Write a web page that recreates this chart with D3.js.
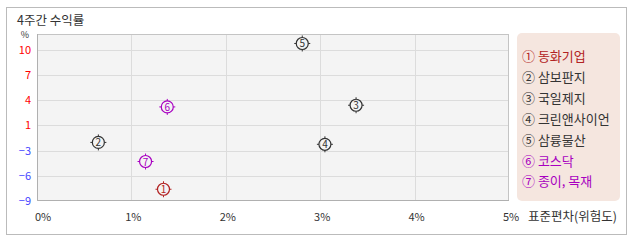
<!DOCTYPE html>
<html>
<head>
<meta charset="utf-8">
<script src="https://cdn.jsdelivr.net/npm/d3@7"></script>
<style>
  body { margin: 0; background: #fff; }
  text { font-family: "Noto Sans CJK KR", "Noto Sans", sans-serif; }
</style>
</head>
<body>
<div id="chart"></div>
<script>
// data
var names = ["동화기업", "삼보판지", "국일제지", "크린앤사이언", "삼륭물산", "코스닥", "종이, 목재"];
var marks = ["①", "②", "③", "④", "⑤", "⑥", "⑦"];
var risk = [1.34, 0.65, 3.38, 3.05, 2.81, 1.38, 1.15];     // 표준편차 %
var returns = [-7.6, -1.7, 3.4, -2.0, 10.8, 3.2, -4.3];    // 4주간 수익률 %
var colors = ["#b22222", "#333", "#333", "#333", "#333", "#a800c0", "#a800c0"];
var xTicks = [0, 1, 2, 3, 4, 5];
var yTicks = [-9, -6, -3, 1, 4, 7, 10];

var svgWidth = 638;
var svgHeight = 242;

var plot = { left: 37, top: 34, right: 509, bottom: 201 };

var svg = d3.select("#chart")
  .append("svg")
  .attr("width", svgWidth)
  .attr("height", svgHeight);

// outer frame
svg.append("rect")
  .attr("x", 6.5).attr("y", 7.5)
  .attr("width", 620).attr("height", 227)
  .attr("fill", "#fff")
  .attr("stroke", "#bbb");

var x = d3.scaleLinear()
  .domain([0, 5])
  .range([plot.left, plot.right]);

// tick labels are evenly spaced on the original, so map them piecewise
var step = 25.2;
var y = d3.scaleLinear()
  .domain(yTicks.concat([12]))
  .range(yTicks.map((d, i) => plot.bottom - i * step).concat([plot.top]));

// plot background
svg.append("rect")
  .attr("x", plot.left).attr("y", plot.top)
  .attr("width", plot.right - plot.left)
  .attr("height", plot.bottom - plot.top)
  .attr("fill", "#f4f4f4");

// grid
svg.append("g").selectAll("line")
  .data(xTicks.slice(1, -1))
  .enter().append("line")
  .attr("x1", d => Math.round(x(d)) + 0.5).attr("x2", d => Math.round(x(d)) + 0.5)
  .attr("y1", plot.top).attr("y2", plot.bottom)
  .attr("stroke", "#dcdcdc");

svg.append("g").selectAll("line")
  .data(yTicks.slice(1))
  .enter().append("line")
  .attr("x1", plot.left).attr("x2", plot.right)
  .attr("y1", d => Math.round(y(d)) + 0.5).attr("y2", d => Math.round(y(d)) + 0.5)
  .attr("stroke", "#dcdcdc");

// plot border
svg.append("rect")
  .attr("x", plot.left + 0.5).attr("y", plot.top + 0.5)
  .attr("width", plot.right - plot.left - 1)
  .attr("height", plot.bottom - plot.top - 1)
  .attr("fill", "none")
  .attr("stroke", "#c4c4c4");
svg.append("path")
  .attr("d", `M${plot.left + 0.5},${plot.top}V${plot.bottom - 0.5}H${plot.right}`)
  .attr("fill", "none")
  .attr("stroke", "#b0b0b0");

// y tick labels
svg.append("g").selectAll("text")
  .data(yTicks)
  .enter().append("text")
  .attr("x", 31)
  .attr("y", d => y(d) + 4)
  .attr("text-anchor", "end")
  .attr("font-size", 11)
  .attr("fill", d => d > 0 ? "#f00" : "#4646ff")
  .text(d => d < 0 ? "\u2212" + Math.abs(d) : d);

svg.append("text")
  .attr("x", 25).attr("y", 38)
  .attr("text-anchor", "middle")
  .attr("font-size", 9)
  .attr("fill", "#333")
  .text("%");

// x tick labels
svg.append("g").selectAll("text")
  .data(xTicks)
  .enter().append("text")
  .attr("x", d => d === 0 ? x(d) + 6 : x(d) + 2)
  .attr("y", 221)
  .attr("text-anchor", "middle")
  .attr("font-size", 11)
  .attr("fill", "#333")
  .text(d => d + "%");

svg.append("text")
  .attr("x", 528).attr("y", 221)
  .attr("font-size", 12.5)
  .attr("fill", "#333")
  .text("표준편차(위험도)");

// title
svg.append("text")
  .attr("x", 17).attr("y", 25)
  .attr("font-size", 12.5)
  .attr("fill", "#333")
  .text("4주간 수익률");

// points
var points = svg.append("g").selectAll("g")
  .data(names.map((n, i) => i))
  .enter().append("g")
  .attr("transform", i => `translate(${x(risk[i])}, ${y(returns[i])})`);

points.append("circle")
  .attr("r", 6)
  .attr("fill", "none")
  .attr("stroke", i => colors[i])
  .attr("stroke-width", 1.2);

points.append("path")
  .attr("d", "M0,-6V-8M0,6V8M-6,0H-8M6,0H8")
  .attr("stroke", i => colors[i])
  .attr("stroke-width", 1);

points.append("text")
  .attr("y", 4)
  .attr("text-anchor", "middle")
  .attr("font-size", 10)
  .attr("fill", i => colors[i])
  .text(i => i + 1);

// legend
svg.append("rect")
  .attr("x", 517).attr("y", 33)
  .attr("width", 103).attr("height", 168)
  .attr("rx", 5)
  .attr("fill", "#f5e6df");

svg.append("g").selectAll("text")
  .data(names.map((n, i) => i))
  .enter().append("text")
  .attr("x", 522)
  .attr("y", i => 61 + i * 20.9)
  .attr("font-size", 13)
  .attr("fill", i => colors[i])
  .text(i => marks[i] + " " + names[i]);
</script>
</body>
</html>
